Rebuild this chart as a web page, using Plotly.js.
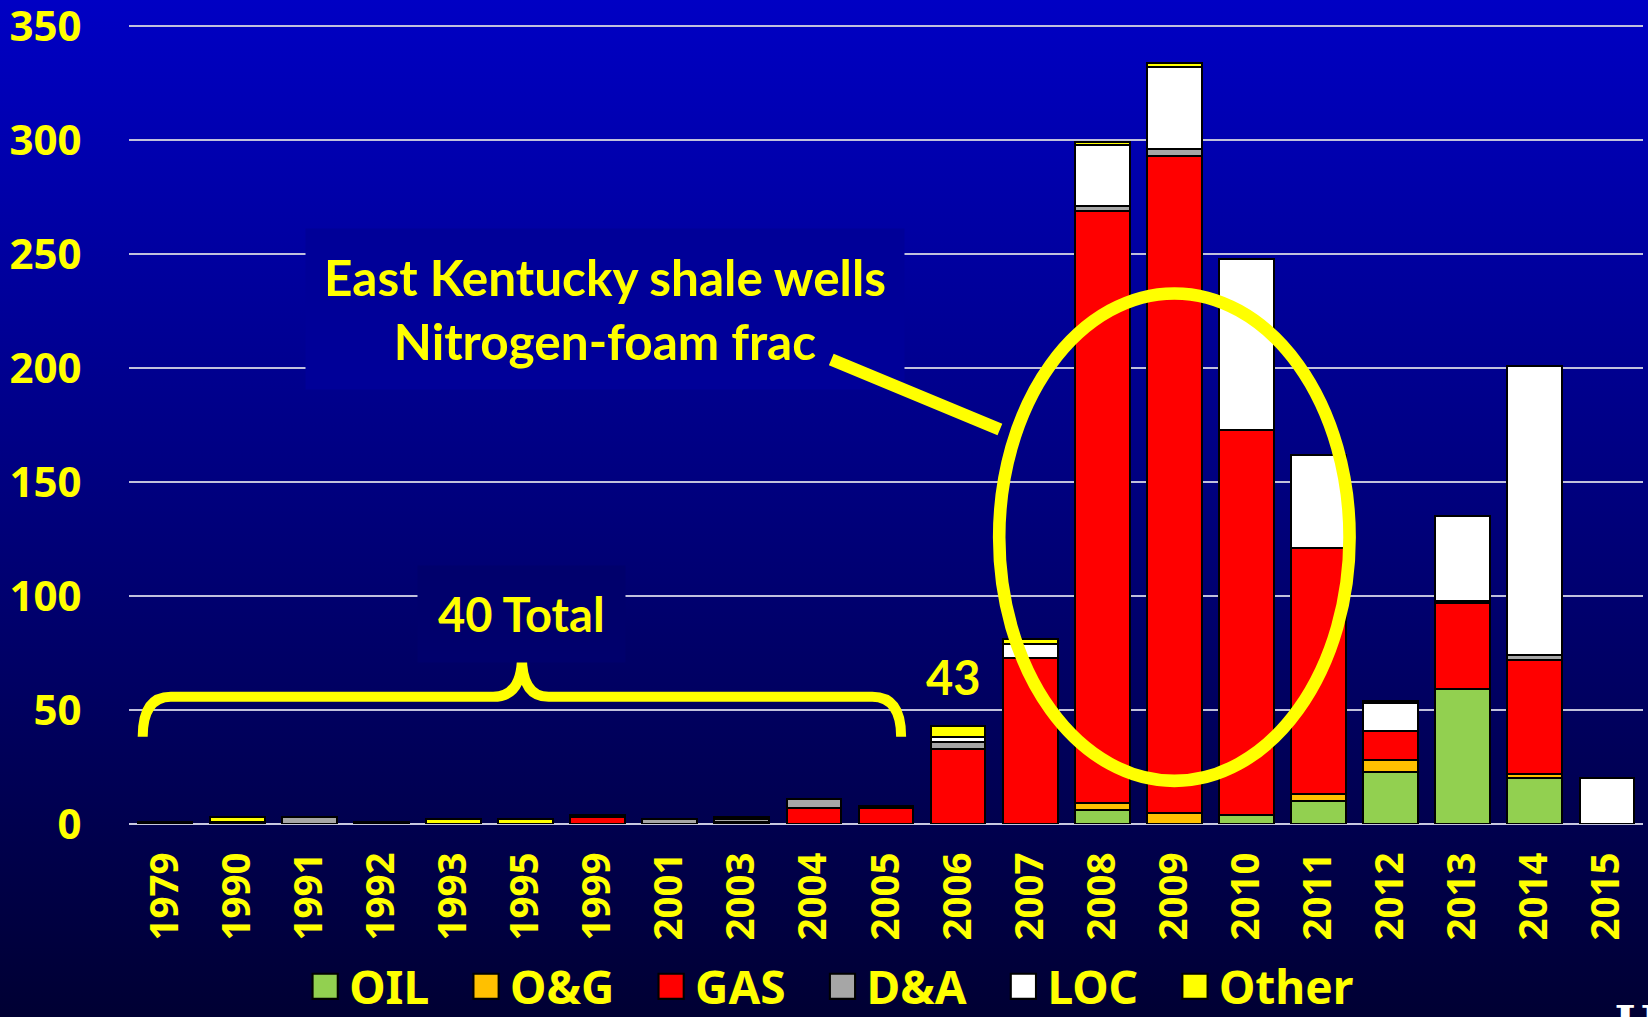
<!DOCTYPE html>
<html>
<head>
<meta charset="utf-8">
<script src="https://cdn.plot.ly/plotly-3.0.1.min.js"></script>
<style>
  html, body { margin: 0; padding: 0; width: 1648px; height: 1017px; overflow: hidden; }
  body { background: linear-gradient(to bottom, #0000c4 0%, #000033 100%); }
  #chart { width: 1648px; height: 1017px; }
</style>
</head>
<body>
<div id="chart"></div>
<script>
// ---- data ----
const years = ['1979','1990','1991','1992','1993','1995','1999','2001','2003','2004','2005','2006','2007','2008','2009','2010','2011','2012','2013','2014','2015'];
const oil   = [0,0,0,0,0,0,0,0,0,0,0, 0, 0,  6,  0,  4, 10,23,59, 20, 0];
const oAndG = [0,0,0,0,0,0,0,0,0,0,0, 0, 0,  3,  5,  0,  3, 5, 0,  2, 0];
const gas   = [1,0,0,0,0,0,3,0,1,7,7,33,73,260,288,169,108,13,38, 50, 0];
const dAndA = [0,1,3,1,0,0,1,2,1,4,1, 3, 0,  2,  3,  0,  0, 0, 1,  2, 0];
const loc   = [0,0,0,0,0,0,0,0,0,0,0, 2, 6, 27, 36, 75, 41,12,37,127,20];
const other = [0,2,0,0,2,2,0,0,1,0,0, 5, 2,  1,  2,  0,  0, 1, 0,  0, 0];
const seriesNames = ['OIL','O&G','GAS','D&A','LOC','Other'];
const seriesColors = ['#92d050','#ffc000','#ff0000','#a6a6a6','#ffffff','#ffff00'];
const yTicks = [0,50,100,150,200,250,300,350];

const seriesValues = [oil, oAndG, gas, dAndA, loc, other];
const pad = '\u00a0\u00a0\u00a0';
const traces = seriesValues.map((vals, i) => ({
  type: 'bar',
  name: seriesNames[i] + pad,
  x: years,
  y: vals.map(v => v === 0 ? null : v),
  marker: { color: seriesColors[i], line: { color: '#000000', width: 2 } },
  hoverinfo: 'x+y+name'
}));

const yellow = '#ffff00';
const sans = 'Noto Sans, Open Sans, sans-serif';
const callout = 'Lato, Open Sans, sans-serif';
const layout = {
  width: 1648, height: 1017,
  margin: { l: 129, r: 5, t: 24, b: 193, autoexpand: false },
  paper_bgcolor: 'rgba(0,0,0,0)',
  plot_bgcolor: 'rgba(0,0,0,0)',
  barmode: 'stack',
  bargap: 0.24,
  showlegend: true,
  legend: {
    orientation: 'h', traceorder: 'normal',
    x: 0.119, xanchor: 'left', y: -0.203, yanchor: 'middle',
    font: { family: sans, size: 46, color: yellow, weight: 'bold' },
    bgcolor: 'rgba(0,0,0,0)', itemclick: false, itemdoubleclick: false
  },
  xaxis: {
    type: 'category',
    tickangle: -90,
    tickfont: { family: sans, size: 38.5, color: yellow, weight: 'bold' },
    ticks: 'outside', ticklen: 12, tickcolor: 'rgba(0,0,0,0)',
    showgrid: false, showline: false, zeroline: false,
    fixedrange: true
  },
  yaxis: {
    range: [0, 350.9],
    tickvals: yTicks,
    ticktext: yTicks.map(String),
    tickfont: { family: sans, size: 42, color: yellow, weight: 'bold' },
    ticklabeloverflow: 'allow',
    ticks: 'outside', ticklen: 38, tickcolor: 'rgba(0,0,0,0)',
    showgrid: true, gridcolor: '#c0c0dc', gridwidth: 2,
    zeroline: true, zerolinecolor: '#c8c8e0', zerolinewidth: 2,
    showline: false, fixedrange: true
  },
  shapes: [
    // ellipse around 2008-2011
    { type: 'circle', xref: 'x', yref: 'y', x0: 11.57, x1: 16.43, y0: 18.9, y1: 232.7,
      line: { color: yellow, width: 12.6 }, layer: 'above' },
    // curly brace under early years
    { type: 'path', xref: 'x', yref: 'y', layer: 'above',
      path: 'M -0.31 38.3 Q -0.31 55.8 0.08 55.8 L 4.55 55.8 Q 4.95 55.8 4.95 73.4 ' +
            'Q 4.95 55.8 5.32 55.8 L 9.81 55.8 Q 10.21 55.8 10.21 38.3',
      line: { color: yellow, width: 10 } }
  ],
  annotations: [
    { xref: 'x', yref: 'y', x: 6.1, y: 226, showarrow: false,
      text: 'East Kentucky shale wells<br>Nitrogen-foam frac',
      font: { family: callout, size: 49.5, color: yellow, weight: 'bold' },
      bgcolor: '#000098', borderpad: 18, align: 'center' },
    // pointer line from the label to the ellipse
    { xref: 'x', yref: 'y', x: 11.58, y: 173, axref: 'x', ayref: 'y', ax: 9.22, ay: 204,
      text: '', showarrow: true, arrowhead: 0, arrowwidth: 12.5, arrowcolor: yellow,
      standoff: 0, startstandoff: 0 },
    { xref: 'x', yref: 'y', x: 4.95, y: 92, showarrow: false,
      text: '40 Total',
      font: { family: callout, size: 47, color: yellow, weight: 'bold' },
      bgcolor: '#00006c', borderpad: 20 },
    { xref: 'x', yref: 'y', x: 10.94, y: 64.5, showarrow: false,
      text: '43',
      font: { family: callout, size: 47, color: yellow, weight: 'bold' } },
    { xref: 'paper', yref: 'paper', x: 0.98, y: -0.212, xanchor: 'left', yanchor: 'top', showarrow: false,
      text: 'U',
      font: { family: 'DejaVu Serif, Liberation Serif, serif', size: 46, color: '#ffffff', weight: 'bold' } }
  ]
};

Plotly.newPlot('chart', traces, layout, { displayModeBar: false, responsive: false }).then(() => {
  document.querySelectorAll('.legend .legendpoints path').forEach(p => {
    const t = p.getAttribute('transform') || '';
    p.setAttribute('transform', t + ' translate(-4,0) scale(2.1)');
    p.style.strokeWidth = '1px';
  });
});
</script>
</body>
</html>
